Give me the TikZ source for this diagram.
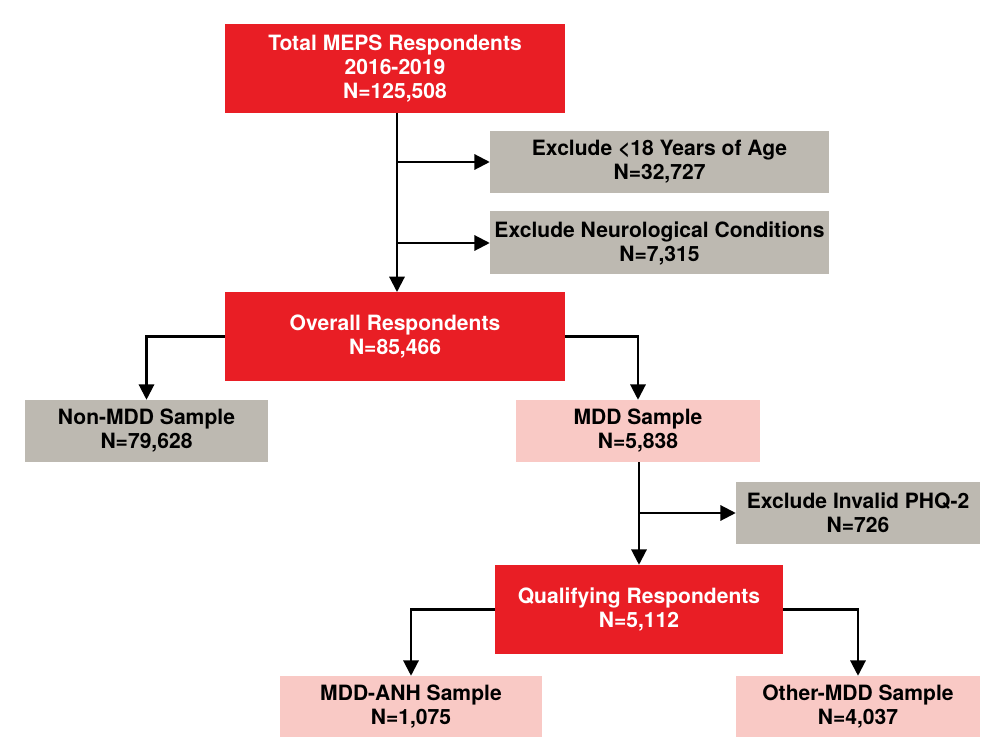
\documentclass[tikz,border=0pt]{standalone}
\usepackage{fontspec}
\setmainfont{TeX Gyre Heros}
\usetikzlibrary{arrows.meta}
\definecolor{boxred}{HTML}{E91E25}
\definecolor{boxgray}{HTML}{BDB9B1}
\definecolor{boxpink}{HTML}{F9C9C5}
\tikzset{
  base/.style={inner sep=0pt, align=center, font=\bfseries\fontsize{15.8}{18}\selectfont},
  redbox/.style={base, fill=boxred, text=white},
  graybox/.style={base, fill=boxgray, text=black},
  pinkbox/.style={base, fill=boxpink, text=black},
  arr/.style={line width=1.6pt, -{Triangle[length=11.5pt,width=11.5pt]}},
}
\begin{document}
\begin{tikzpicture}[x=0.75pt,y=-0.75pt]
\useasboundingbox (0,0) rectangle (981,737);
\node[redbox, minimum width=255pt, minimum height=66.75pt] (total) at (395,68.5)
  {Total MEPS Respondents\\2016-2019\\N=125,508};
\node[graybox, minimum width=254.25pt, minimum height=46.5pt] (ex18) at (659.5,162)
  {Exclude <18 Years of Age\\N=32,727};
\node[graybox, minimum width=254.25pt, minimum height=47.25pt] (exneuro) at (659.5,243)
  {Exclude Neurological Conditions\\N=7,315};
\node[redbox, minimum width=255pt, minimum height=66.75pt] (overall) at (395,336.5)
  {Overall Respondents\\N=85,466};
\node[graybox, minimum width=182.25pt, minimum height=46.5pt] (nonmdd) at (146.5,431)
  {Non-MDD Sample\\N=79,628};
\node[pinkbox, minimum width=183pt, minimum height=46.5pt] (mdd) at (638,431)
  {MDD Sample\\N=5,838};
\node[graybox, minimum width=183pt, minimum height=46.5pt] (phq) at (858,513)
  {Exclude Invalid PHQ-2\\N=726};
\node[redbox, minimum width=216pt, minimum height=66.75pt] (qual) at (639,609.5)
  {Qualifying Respondents\\N=5,112};
\node[pinkbox, minimum width=196.5pt, minimum height=45.75pt] (anh) at (411,706.5)
  {MDD-ANH Sample\\N=1,075};
\node[pinkbox, minimum width=183pt, minimum height=45.75pt] (other) at (858,706.5)
  {Other-MDD Sample\\N=4,037};

\coordinate (trunktop) at (397,113);
\coordinate (trunkbot) at (397,292);
\draw[arr] (trunktop) -- (trunkbot);
\draw[arr] (ex18.west -| trunktop) -- (ex18.west);
\draw[arr] (exneuro.west -| trunktop) -- (exneuro.west);
\draw[arr] (overall.west) -| (nonmdd.north);
\draw[arr] (overall.east) -| (mdd.north);
\coordinate (t2top) at (639,462);
\draw[arr] (t2top) -- (qual.north);
\draw[arr] (phq.west -| t2top) -- (phq.west);
\draw[arr] (qual.west) -| (anh.north);
\draw[arr] (qual.east) -| (other.north);
\end{tikzpicture}
\end{document}
